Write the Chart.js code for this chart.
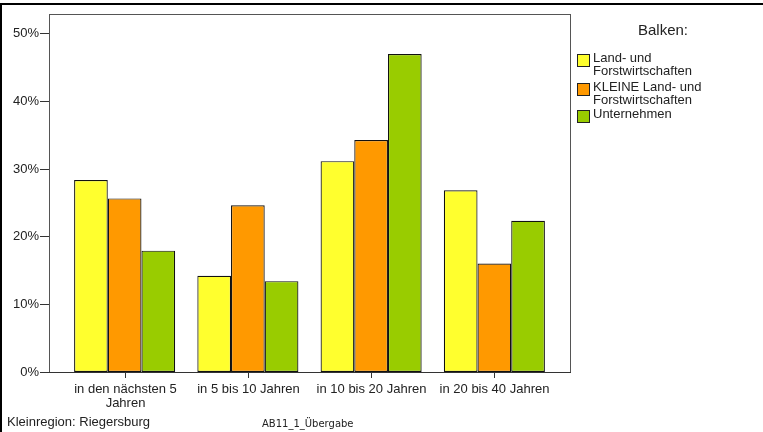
<!DOCTYPE html>
<html>
<head>
<meta charset="utf-8">
<script src="https://cdn.jsdelivr.net/npm/chart.js@4"></script>
<style>
  body { margin: 0; background: #fff; font-family: "Liberation Sans", Arial, sans-serif; }
  .wrap { position: relative; width: 763px; height: 432px; overflow: hidden; }
  canvas { position: absolute; left: 0; top: 0; }
  .legend { position: absolute; left: 577px; top: 20px; width: 186px; color: #222; font-size: 13px; line-height: 13px; }
  .legend-title { position: absolute; left: 61px; top: 3px; font-size: 15px; }
  .legend-item { position: absolute; left: 0; display: flex; align-items: flex-start; }
  .legend-box { width: 11px; height: 11px; border: 1px solid #222; margin-right: 3px; margin-top: 3px; flex: none; }
  .foot { position: absolute; color: #222; white-space: nowrap; }
</style>
</head>
<body>
<div class="wrap">
  <canvas id="chart" width="763" height="432"></canvas>
  <div class="legend" id="legend"><div class="legend-title">Balken:</div></div>
  <div class="foot" style="left:7px;top:414px;font-size:13px;">Kleinregion: Riegersburg</div>
  <div class="foot" style="left:262px;top:418px;font-size:10px;font-family:'DejaVu Sans';">AB11_1_Übergabe</div>
</div>
<script>
// Data (percent)
const categories = [["in den nächsten 5", "Jahren"], "in 5 bis 10 Jahren", "in 10 bis 20 Jahren", "in 20 bis 40 Jahren"];
const seriesNames = [["Land- und", "Forstwirtschaften"], ["KLEINE Land- und", "Forstwirtschaften"], ["Unternehmen"]];
const landForst = [28.3, 14.2, 31.1, 26.8];
const kleineLandForst = [25.6, 24.6, 34.2, 16.0];
const unternehmen = [17.9, 13.4, 46.9, 22.3];
const yTicks = [0, 10, 20, 30, 40, 50];
const colors = ["#FFFF2E", "#FF9900", "#99CC00"];

/* ── frame, axes and labels drawn from the chart's scales ── */
const framePlugin = {
  id: "frame",
  afterDatasetsDraw(chart) {
    const ctx = chart.ctx;
    const x = chart.scales.x, y = chart.scales.y;
    const left = 49, right = 570, top = 14, bottom = y.getPixelForValue(0);
    ctx.save();

    // outer border (top + left)
    ctx.fillStyle = "#000";
    ctx.fillRect(0, 3, 763, 2);
    ctx.fillRect(0, 3, 2, 429);

    // plot frame
    ctx.strokeStyle = "#555";
    ctx.lineWidth = 1;
    ctx.strokeRect(left + 0.5, top + 0.5, right - left, bottom - top);
    ctx.strokeStyle = "#333";
    ctx.beginPath();
    ctx.moveTo(left, Math.round(bottom) + 0.5);
    ctx.lineTo(right + 1, Math.round(bottom) + 0.5);
    ctx.stroke();

    // y ticks
    ctx.font = "13px 'Liberation Sans', Arial, sans-serif";
    ctx.fillStyle = "#222";
    ctx.textAlign = "right";
    ctx.textBaseline = "middle";
    yTicks.forEach((v) => {
      const py = Math.round(y.getPixelForValue(v)) + 0.5;
      ctx.beginPath();
      ctx.moveTo(40, py);
      ctx.lineTo(left, py);
      ctx.stroke();
      ctx.fillText(v + "%", 39, py);
    });

    // x ticks + labels
    ctx.textAlign = "center";
    categories.forEach((c, i) => {
      const px = Math.round(x.getPixelForValue(i)) + 0.5;
      ctx.beginPath();
      ctx.moveTo(px, bottom);
      ctx.lineTo(px, bottom + 6);
      ctx.stroke();
      const lines = Array.isArray(c) ? c : [c];
      lines.forEach((t, j) => ctx.fillText(t, px, 389 + j * 14));
    });
    ctx.restore();
  },
};

new Chart(document.getElementById("chart"), {
  type: "bar",
  data: {
    labels: categories,
    datasets: [landForst, kleineLandForst, unternehmen].map((d, i) => ({
      label: seriesNames[i].join(" "),
      data: d,
      backgroundColor: colors[i],
      borderColor: "#111",
      borderWidth: 1.2,
      borderSkipped: false,
    })),
  },
  options: {
    responsive: false,
    animation: false,
    layout: { padding: { left: 63, right: 207, top: 14, bottom: 60 } },
    categoryPercentage: 0.82,
    barPercentage: 1,
    plugins: { legend: { display: false }, tooltip: { enabled: false } },
    scales: {
      x: { display: false },
      y: { display: false, min: 0, max: 52.8 },
    },
  },
  plugins: [framePlugin],
});

// Custom legend
const legend = document.getElementById("legend");
const tops = [31, 60, 87];
seriesNames.forEach((n, i) => {
  const item = document.createElement("div");
  item.className = "legend-item";
  item.style.top = tops[i] + "px";
  item.innerHTML = `<div class="legend-box" style="background:${colors[i]}"></div><div>${n.join("<br>")}</div>`;
  legend.appendChild(item);
});
</script>
</body>
</html>
